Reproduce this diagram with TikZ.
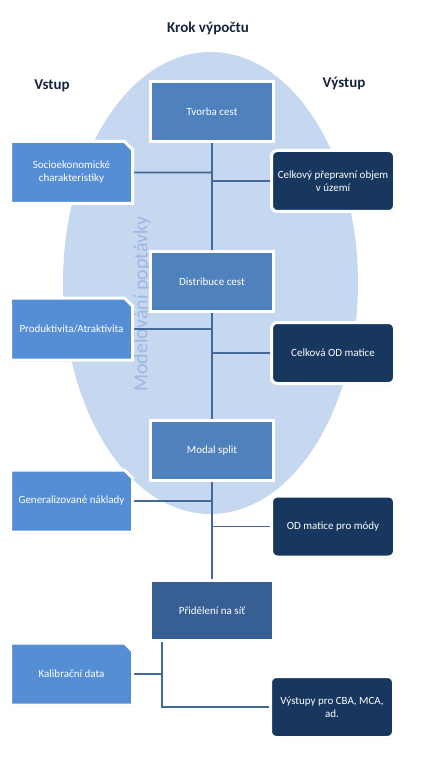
\documentclass[tikz,border=0pt]{standalone}
\usepackage{fontspec}
\setmainfont{Carlito}
\usetikzlibrary{shapes.misc,shadows,backgrounds}
\definecolor{krok}{RGB}{79,129,189}
\definecolor{prideleni}{RGB}{56,95,147}
\definecolor{vstup}{RGB}{85,142,213}
\definecolor{vystup}{RGB}{23,55,94}
\definecolor{elipsa}{RGB}{198,216,240}
\definecolor{poptavka}{RGB}{156,183,226}
\definecolor{spojnice}{RGB}{66,104,156}
\definecolor{nadpis}{RGB}{23,37,60}
\tikzset{
  boxtext/.style={text=white,align=center,inner sep=2pt,font=\fontsize{11}{13}\selectfont},
  stin/.style={drop shadow={shadow xshift=1pt,shadow yshift=-1.5pt,opacity=.3}},
  krokbox/.style={boxtext,rectangle,fill=krok,draw=white,line width=3pt,minimum width=123pt,minimum height=60pt,stin},
  vstupbox/.style={boxtext,chamfered rectangle,chamfered rectangle corners=north east,chamfered rectangle sep=4pt,fill=vstup,draw=white,line width=3pt,minimum width=122pt,minimum height=62pt,stin},
  vystupbox/.style={boxtext,rectangle,rounded corners=6pt,fill=vystup,draw=white,line width=3pt,minimum width=123pt,minimum height=61pt,stin},
  nadpisy/.style={text=nadpis,font=\fontsize{15}{18}\selectfont\bfseries},
  spoj/.style={draw=spojnice,line width=1.6pt},
}
\begin{document}
\begin{tikzpicture}[x=1pt,y=-1pt]
\useasboundingbox (0,0) rectangle (422,759);
\begin{scope}[on background layer]
  \fill[elipsa] (210.5,283) ellipse [x radius=147.5,y radius=231];
  \node[rotate=90,text=poptavka,font=\fontsize{20}{24}\selectfont] (model) at (142,304) {Modelování poptávky};
\end{scope}
\node[nadpisy] (krokvyp) at (208,28) {Krok výpočtu};
\node[nadpisy] (vst) at (52,86) {Vstup};
\node[nadpisy] (vyst) at (344,84) {Výstup};
\node[krokbox] (tvorba) at (212,111.5) {Tvorba cest};
\node[krokbox] (distr) at (212,281.5) {Distribuce cest};
\node[krokbox] (modal) at (212,450.5) {Modal split};
\node[krokbox,fill=prideleni] (prid) at (212,610.5) {Přidělení na síť};
\node[vstupbox] (socio) at (71.5,172.5) {Socioekonomické\\charakteristiky};
\node[vstupbox] (produkt) at (71.5,329) {Produktivita/Atraktivita};
\node[vstupbox] (gener) at (71.5,501) {Generalizované náklady};
\node[vstupbox] (kalib) at (71.5,674) {Kalibrační data};
\node[vystupbox] (objem) at (333,181) {Celkový přepravní objem\\v území};
\node[vystupbox] (odmat) at (333,353) {Celková OD matice};
\node[vystupbox] (odmody) at (333,526.5) {OD matice pro módy};
\node[vystupbox] (vystupy) at (332,707) {Výstupy pro CBA, MCA,\\ad.};
\coordinate (uzel) at (162,707);
\begin{scope}[on background layer]
  \draw[spoj] (tvorba) -- (distr) -- (modal) -- (prid);
  \draw[spoj] (socio) -- (socio -| tvorba);
  \draw[spoj] (objem) -- (objem -| tvorba);
  \draw[spoj] (produkt) -- (produkt -| distr);
  \draw[spoj] (odmat) -- (odmat -| distr);
  \draw[spoj] (gener) -- (gener -| modal);
  \draw[spoj] (odmody) -- (odmody -| modal);
  \draw[spoj] (prid.south -| uzel) -- (uzel) -- (vystupy);
  \draw[spoj] (kalib) -- (kalib -| uzel);
\end{scope}
\end{tikzpicture}
\end{document}
